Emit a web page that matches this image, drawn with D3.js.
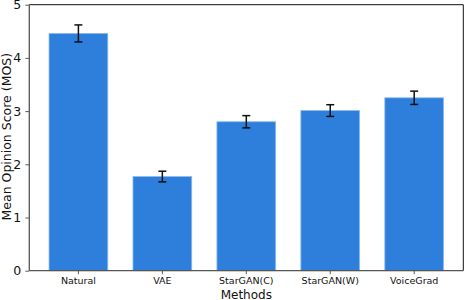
<!DOCTYPE html>
<html>
<head>
<meta charset="utf-8">
<script src="https://cdn.jsdelivr.net/npm/d3@7"></script>
<style>
  body { margin: 0; background: #fff; }
  text { font-family: "DejaVu Sans", sans-serif; }
</style>
</head>
<body>
<svg id="chart" width="464" height="300"></svg>
<script>
// data
var methods = ["Natural", "VAE", "StarGAN(C)", "StarGAN(W)", "VoiceGrad"];
var mos = [4.46, 1.77, 2.80, 3.01, 3.25];
var mosErr = [0.16, 0.10, 0.115, 0.11, 0.125];
var yTicks = [0, 1, 2, 3, 4, 5];

var W = 464, H = 300;
var margin = {left: 29.3, right: 0.7, top: 4.7, bottom: 29.3};
var svg = d3.select("#chart");

var x = d3.scaleBand()
    .domain(methods)
    .range([margin.left, W - margin.right])
    .paddingInner(0.3)
    .paddingOuter(0.235);

var y = d3.scaleLinear()
    .domain([0, 5])
    .range([H - margin.bottom, margin.top]);

// bars
svg.selectAll(".bar")
    .data(methods)
    .enter()
    .append("rect")
    .attr("class", "bar")
    .attr("x", function(d){ return x(d) })
    .attr("width", x.bandwidth())
    .attr("y", function(d, i){ return y(mos[i]) })
    .attr("height", function(d, i){ return y(0) - y(mos[i]) })
    .style("fill", "#2d7fdb")
    .style("stroke", "#8dbbec")
    .style("stroke-width", 0.8);

// error bars
var capW = 8;
var err = svg.selectAll(".err")
    .data(methods)
    .enter()
    .append("g")
    .attr("class", "err")
    .style("stroke", "#111")
    .style("stroke-width", 1.5);
err.append("line")
    .attr("x1", function(d){ return x(d) + x.bandwidth()/2 })
    .attr("x2", function(d){ return x(d) + x.bandwidth()/2 })
    .attr("y1", function(d, i){ return y(mos[i] + mosErr[i]) })
    .attr("y2", function(d, i){ return y(mos[i] - mosErr[i]) });
[1, -1].forEach(function(s){
    err.append("line")
        .attr("x1", function(d){ return x(d) + x.bandwidth()/2 - capW/2 })
        .attr("x2", function(d){ return x(d) + x.bandwidth()/2 + capW/2 })
        .attr("y1", function(d, i){ return y(mos[i] + s*mosErr[i]) })
        .attr("y2", function(d, i){ return y(mos[i] + s*mosErr[i]) });
});

// axes
var yAxis = d3.axisLeft(y).tickValues(yTicks).tickSize(4).tickPadding(4).tickFormat(d3.format("d"));
var gy = svg.append("g")
    .attr("transform", "translate(" + margin.left + ",0)")
    .call(yAxis);
gy.selectAll("text").style("font-size", "12.5px").style("fill", "#111");

var xAxis = d3.axisBottom(x).tickSize(3.5).tickPadding(3.5);
var gx = svg.append("g")
    .attr("transform", "translate(0," + (H - margin.bottom) + ")")
    .call(xAxis);
gx.selectAll("text").style("font-size", "9.5px").style("fill", "#111");

[gx, gy].forEach(function(g){
    g.select(".domain").remove();
    g.selectAll(".tick line").style("stroke", "#333").style("stroke-width", 0.8);
});

// frame
var x0 = margin.left, x1 = W - margin.right, y0 = margin.top, y1 = H - margin.bottom;
svg.append("line").attr("x1", x0).attr("x2", x1).attr("y1", y0).attr("y2", y0)
    .style("stroke", "#111").style("stroke-width", 1);
svg.append("line").attr("x1", x1).attr("x2", x1).attr("y1", y0).attr("y2", y1)
    .style("stroke", "#111").style("stroke-width", 1);
svg.append("line").attr("x1", x0).attr("x2", x0).attr("y1", y0).attr("y2", y1)
    .style("stroke", "#555").style("stroke-width", 1.3);
svg.append("line").attr("x1", x0).attr("x2", x1).attr("y1", y1).attr("y2", y1)
    .style("stroke", "#555").style("stroke-width", 1.3);

// labels
svg.append("text")
    .attr("x", (x0 + x1) / 2)
    .attr("y", 298.5)
    .attr("text-anchor", "middle")
    .style("font-size", "12px")
    .style("fill", "#111")
    .text("Methods");

svg.append("text")
    .attr("transform", "translate(11," + ((y0 + y1) / 2 - 1) + ") rotate(-90)")
    .attr("text-anchor", "middle")
    .style("font-size", "12.5px")
    .style("fill", "#111")
    .text("Mean Opinion Score (MOS)");
</script>
</body>
</html>
